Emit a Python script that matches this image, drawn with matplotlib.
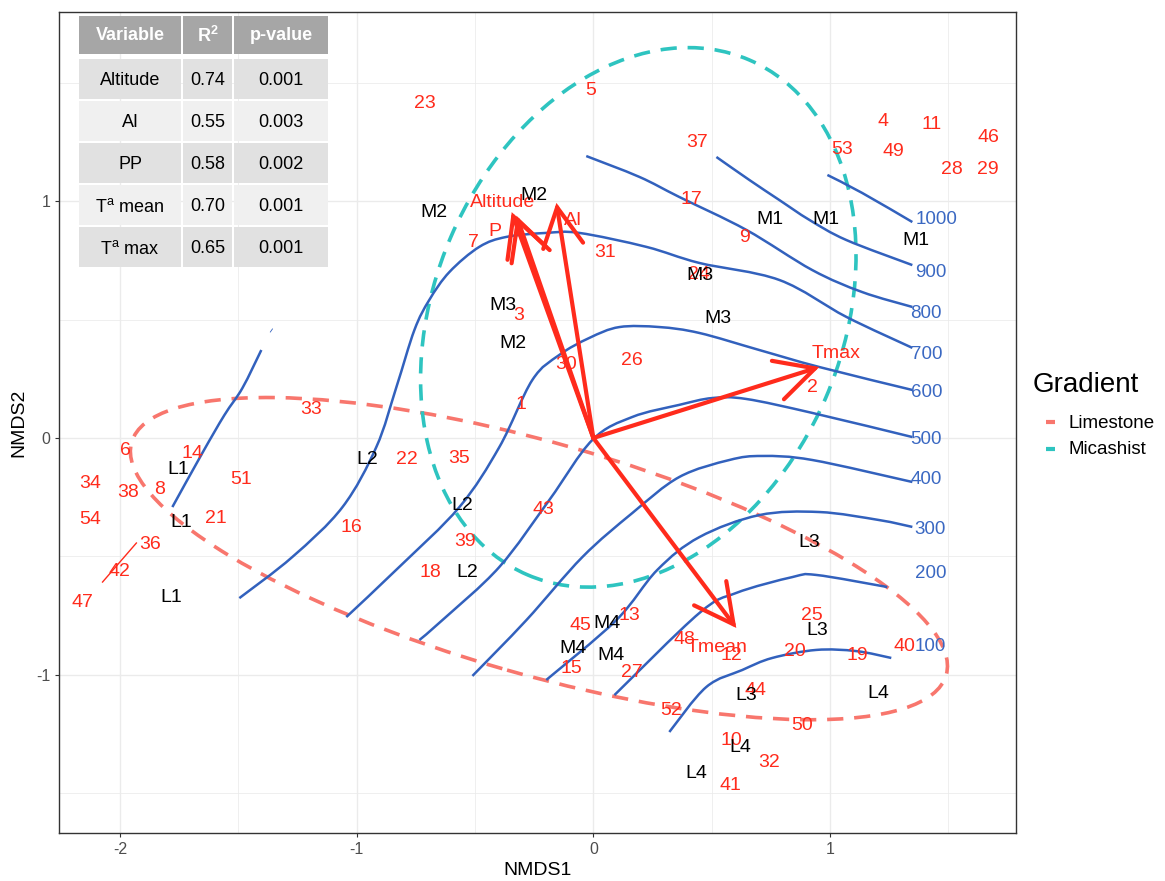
import numpy as np
import matplotlib
matplotlib.use('Agg')
import matplotlib.pyplot as plt
from matplotlib.patches import Ellipse, Rectangle, PathPatch
from matplotlib.path import Path
from matplotlib.lines import Line2D
from matplotlib.transforms import ScaledTranslation

plt.rcParams['font.family'] = ['Liberation Sans', 'DejaVu Sans']
plt.rcParams['axes.unicode_minus'] = False
plt.rcParams['mathtext.fontset'] = 'custom'
plt.rcParams['mathtext.rm'] = 'Liberation Sans'
plt.rcParams['mathtext.bf'] = 'Liberation Sans:bold'
plt.rcParams['mathtext.it'] = 'Liberation Sans:italic'

# ---------------- data ----------------
site_ids = [23, 5, 37, 4, 11, 46, 53, 49, 28, 29, 17, 9, 7, 31, 24, 3, 30, 26, 2, 1,
            33, 6, 14, 22, 35, 34, 51, 38, 8, 54, 21, 16, 43, 36, 39, 42, 18, 47,
            25, 45, 13, 48, 12, 20, 19, 40, 15, 27, 44, 52, 50, 10, 32, 41]
site_x = [-0.710, -0.013, 0.439, 1.225, 1.428, 1.669, 1.052, 1.267, 1.517, 1.665,
          0.414, 0.638, -0.507, 0.051, 0.448, -0.317, -0.114, 0.161, 0.925, -0.304,
          -1.191, -1.977, -1.694, -0.786, -0.566, -2.125, -1.487, -1.965, -1.834, -2.125,
          -1.597, -1.022, -0.211, -1.872, -0.541, -2.003, -0.689, -2.159,
          0.925, -0.055, 0.152, 0.384, 0.583, 0.853, 1.115, 1.314, -0.093, 0.161,
          0.684, 0.330, 0.883, 0.583, 0.744, 0.579]
site_y = [1.425, 1.480, 1.260, 1.349, 1.336, 1.281, 1.230, 1.222, 1.146, 1.146,
          1.019, 0.858, 0.837, 0.795, 0.702, 0.529, 0.321, 0.338, 0.224, 0.152,
          0.131, -0.042, -0.055, -0.080, -0.076, -0.182, -0.165, -0.220, -0.207, -0.334,
          -0.330, -0.368, -0.292, -0.440, -0.427, -0.554, -0.558, -0.685,
          -0.740, -0.782, -0.740, -0.841, -0.909, -0.892, -0.909, -0.871, -0.964, -0.981,
          -1.057, -1.142, -1.205, -1.268, -1.362, -1.459]

group_labels = ['M2', 'M2', 'M1', 'M1', 'M1', 'M3', 'M3', 'M3', 'M2', 'L2', 'L1', 'L1',
                'L2', 'L3', 'L2', 'L1', 'M4', 'M4', 'M4', 'L3', 'L3', 'L4', 'L4', 'L4']
group_x = [-0.672, -0.249, 0.748, 0.984, 1.365, 0.452, -0.384, 0.528, -0.338, -0.955,
           -1.753, -1.741, -0.553, 0.913, -0.532, -1.783, 0.059, -0.084, 0.076, 0.946,
           0.646, 1.204, 0.621, 0.435]
group_y = [0.964, 1.036, 0.934, 0.934, 0.846, 0.698, 0.571, 0.516, 0.410, -0.080,
           -0.123, -0.347, -0.275, -0.431, -0.558, -0.664, -0.774, -0.879, -0.909, -0.803,
           -1.078, -1.070, -1.298, -1.408]

# envfit vectors
vec_x = [-0.345, -0.325, -0.156, 0.955, 0.604]
vec_y = [0.955, 0.940, 0.994, 0.300, -0.803]
vec_labels = ['Altitude', 'P', 'AI', 'Tmax', 'Tmean']
vec_lab_x = [-0.384, -0.418, -0.084, 1.027, 0.524]
vec_lab_y = [1.006, 0.884, 0.930, 0.368, -0.875]

# repel segment
seg_x = [-2.074, -1.931]
seg_y = [-0.609, -0.444]

# ordisurf contour lines (altitude)
c1000_x = [0.989, 1.136, 1.348]
c1000_y = [1.112, 1.036, 0.913]
c900_x = [0.520, 0.659, 0.786, 0.913, 1.069, 1.348]
c900_y = [1.188, 1.091, 1.006, 0.922, 0.837, 0.731]
c800_x = [-0.030, 0.194, 0.363, 0.646, 0.925, 1.136, 1.348]
c800_y = [1.192, 1.104, 1.019, 0.880, 0.710, 0.617, 0.554]
c700_x = [-1.496, -1.272, -1.060, -0.917, -0.832, -0.756, -0.693, -0.608, -0.482, -0.368,
          -0.199, -0.059, 0.224, 0.448, 0.786, 1.069, 1.348]
c700_y = [-0.677, -0.503, -0.292, -0.038, 0.216, 0.457, 0.584, 0.702, 0.808, 0.850,
          0.867, 0.867, 0.808, 0.740, 0.668, 0.512, 0.381]
c600_x = [-1.044, -0.820, -0.566, -0.397, -0.258, -0.144, -0.017, 0.110, 0.279, 0.448,
          0.701, 0.955, 1.348]
c600_y = [-0.757, -0.545, -0.292, -0.038, 0.245, 0.351, 0.423, 0.469, 0.469, 0.444,
          0.372, 0.300, 0.203]
c500_x = [-0.735, -0.638, -0.397, -0.186, -0.004, 0.165, 0.363, 0.503, 0.646, 0.925, 1.348]
c500_y = [-0.854, -0.770, -0.545, -0.262, -0.008, 0.089, 0.140, 0.169, 0.165, 0.106, 0.004]
c400_x = [-0.511, -0.283, -0.046, 0.165, 0.363, 0.575, 0.714, 0.925, 1.348]
c400_y = [-1.006, -0.770, -0.503, -0.317, -0.165, -0.093, -0.076, -0.093, -0.186]
c300_x = [-0.199, 0.097, 0.270, 0.448, 0.701, 0.955, 1.208, 1.348]
c300_y = [-1.023, -0.770, -0.558, -0.419, -0.326, -0.313, -0.347, -0.376]
c200_x = [0.089, 0.448, 0.604, 0.841, 0.942, 1.242]
c200_y = [-1.087, -0.740, -0.655, -0.588, -0.579, -0.630]
c100_x = [0.321, 0.477, 0.629, 0.756, 0.942, 1.111, 1.259]
c100_y = [-1.243, -1.053, -0.981, -0.930, -0.896, -0.901, -0.930]
cleft_x = [-1.779, -1.652, -1.559, -1.483, -1.403]
cleft_y = [-0.292, -0.063, 0.097, 0.211, 0.372]
cstub_x = [-1.365, -1.356]
cstub_y = [0.448, 0.461]

contour_levels = ['1000', '900', '800', '700', '600', '500', '400', '300', '200', '100']
contour_lab_x = [1.449, 1.428, 1.407, 1.407, 1.407, 1.407, 1.407, 1.424, 1.424, 1.424]
contour_lab_y = [0.934, 0.710, 0.537, 0.364, 0.203, 0.004, -0.165, -0.376, -0.562, -0.871]

# ellipses (center x, center y, width, height, angle)
gradient_names = ['Limestone', 'Micashist']
ell_cx = [-0.23, 0.19]
ell_cy = [-0.51, 0.51]
ell_w = [3.58, 1.724]
ell_h = [0.98, 2.37]
ell_ang = [-15.95, -23.3]

# table
tab_header = ['Variable', 'R$^{\\mathbf{2}}$', 'p-value']
tab_vars = ['Altitude', 'AI', 'PP', 'T$^{\\mathrm{a}}$ mean', 'T$^{\\mathrm{a}}$ max']
tab_r2 = ['0.74', '0.55', '0.58', '0.70', '0.65']
tab_p = ['0.001', '0.003', '0.002', '0.001', '0.001']

# ---------------- styles ----------------
RED = '#FF2B1C'
BLUE = '#3261BD'
BLUE_TXT = '#3A68C2'
ELL_COLS = ['#F8766D', '#2EC4C0']


def smooth_path(xs, ys):
    """Catmull-Rom through the given vertices, drawn as cubic Bezier segments."""
    p = np.column_stack([xs, ys]).astype(float)
    n = len(p)
    if n < 3:
        return Path(p)
    ext = np.vstack([p[0], p, p[-1]])
    verts = [p[0]]
    codes = [Path.MOVETO]
    for i in range(1, n):
        p0, p1, p2, p3 = ext[i - 1], ext[i], ext[i + 1], ext[i + 2]
        c1 = p1 + (p2 - p0) / 6.0
        c2 = p2 - (p3 - p1) / 6.0
        verts += [c1, c2, p2]
        codes += [Path.CURVE4] * 3
    return Path(np.array(verts), codes)


fig = plt.figure(figsize=(11.65, 8.81), dpi=100)
ax = fig.add_axes([59 / 1165, 1 - 833 / 881, (1016 - 59) / 1165, (833 - 12) / 881])
ax.set_xlim(-2.258, 1.786)
ax.set_ylim(-1.670, 1.801)

ax.set_xticks([-2, -1, 0, 1])
ax.set_xticks([-1.5, -0.5, 0.5, 1.5], minor=True)
ax.set_yticks([-1, 0, 1])
ax.set_yticks([-1.5, -0.5, 0.5, 1.5], minor=True)
ax.set_xticklabels(['-2', '-1', '0', '1'])
ax.set_yticklabels(['-1', '0', '1'])
ax.grid(which='major', color='#EBEBEB', lw=1.0, zorder=0)
ax.grid(which='minor', color='#EBEBEB', lw=0.55, zorder=0)
ax.set_axisbelow(True)
ax.tick_params(which='major', direction='out', length=3.2, width=0.8, color='#333333',
               labelsize=11.5, labelcolor='#4D4D4D', pad=3)
ax.tick_params(which='minor', length=0)
for s in ax.spines.values():
    s.set_color('#333333')
    s.set_linewidth(1.0)
ax.set_xlabel('NMDS1', fontsize=14, labelpad=4)
ax.set_ylabel('NMDS2', fontsize=14, labelpad=6)

txt_tr = ax.transData + ScaledTranslation(0, -2.5 / 100, fig.dpi_scale_trans)

# ellipses
for i in range(2):
    e = Ellipse((ell_cx[i], ell_cy[i]), ell_w[i], ell_h[i], angle=ell_ang[i], fill=False,
                edgecolor=ELL_COLS[i], lw=2.6, linestyle=(0, (4.5, 3.0)), zorder=2)
    ax.add_patch(e)

# contours
cont_x = [c1000_x, c900_x, c800_x, c700_x, c600_x, c500_x, c400_x, c300_x, c200_x, c100_x,
          cleft_x]
cont_y = [c1000_y, c900_y, c800_y, c700_y, c600_y, c500_y, c400_y, c300_y, c200_y, c100_y,
          cleft_y]
for cx, cy in zip(cont_x, cont_y):
    ax.add_patch(PathPatch(smooth_path(cx, cy), facecolor='none', edgecolor=BLUE,
                           lw=1.8, zorder=3, capstyle='butt'))
ax.plot(cstub_x, cstub_y, color=BLUE, lw=0.6, zorder=3)
for lab, lx, ly in zip(contour_levels, contour_lab_x, contour_lab_y):
    ax.text(lx, ly, lab, color=BLUE_TXT, fontsize=13.5, ha='center', va='center', zorder=6,
            transform=txt_tr)

# arrows
for vx, vy in zip(vec_x, vec_y):
    ax.annotate('', xy=(vx, vy), xytext=(0, 0),
                arrowprops=dict(arrowstyle='->,head_length=2.8,head_width=1.45',
                                mutation_scale=10, lw=3.0, color=RED,
                                shrinkA=0, shrinkB=0, joinstyle='miter'),
                zorder=5)
for lab, lx, ly in zip(vec_labels, vec_lab_x, vec_lab_y):
    ax.text(lx, ly, lab, color=RED, fontsize=14, ha='center', va='center', zorder=7,
            transform=txt_tr)

ax.plot(seg_x, seg_y, color=RED, lw=1.0, zorder=4)

# site labels
for sid, sx, sy in zip(site_ids, site_x, site_y):
    ax.text(sx, sy, str(sid), color=RED, fontsize=14, ha='center', va='center', zorder=7,
            transform=txt_tr)
for g, gx, gy in zip(group_labels, group_x, group_y):
    ax.text(gx, gy, g, color='black', fontsize=14, ha='center', va='center', zorder=8,
            transform=txt_tr)

# ---------------- overlay: table + legend ----------------
ov = fig.add_axes([0, 0, 1, 1], zorder=10)
ov.set_xlim(0, 1165)
ov.set_ylim(881, 0)
ov.axis('off')

col_edges = [(79, 181), (183, 232), (234, 328)]
head_rows = (16, 54)
body_rows = [(59, 99), (101, 141), (143, 183), (185, 225), (227, 267)]
for (x0, x1), txt in zip(col_edges, tab_header):
    ov.add_patch(Rectangle((x0, head_rows[0]), x1 - x0, head_rows[1] - head_rows[0],
                           facecolor='#A6A6A6', edgecolor='none'))
    ov.text((x0 + x1) / 2, (head_rows[0] + head_rows[1]) / 2 + 1, txt, color='white',
            fontsize=13, fontweight='bold', ha='center', va='center')
body_cols = [tab_vars, tab_r2, tab_p]
for r, (y0, y1) in enumerate(body_rows):
    fc = '#E1E1E1' if r % 2 == 0 else '#F0F0F0'
    for c, (x0, x1) in enumerate(col_edges):
        ov.add_patch(Rectangle((x0, y0), x1 - x0, y1 - y0, facecolor=fc, edgecolor='none'))
        ov.text((x0 + x1) / 2, (y0 + y1) / 2 + 1.5, body_cols[c][r], color='black',
                fontsize=13, ha='center', va='center')

# legend
ov.text(1033, 385, 'Gradient', fontsize=20, ha='left', va='center', color='black')
leg_y = [422, 449]
for name, col, ly in zip(gradient_names, ELL_COLS, leg_y):
    ov.add_line(Line2D([1046, 1055], [ly, ly], color=col, lw=3.0, solid_capstyle='butt'))
    ov.text(1068, ly + 1, name, fontsize=13.5, ha='left', va='center', color='black')

fig.savefig('out.png', dpi=100)
